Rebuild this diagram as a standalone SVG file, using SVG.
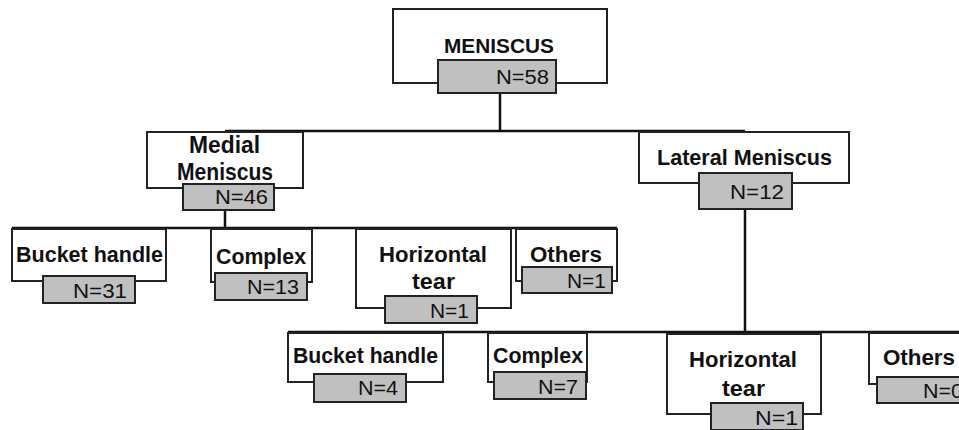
<svg xmlns="http://www.w3.org/2000/svg" width="959" height="430" viewBox="0 0 959 430">
<style>
.box{fill:#fff;stroke:#222;stroke-width:2}
.num{fill:#c0c0c0;stroke:#222;stroke-width:2}
.lbl{font-family:"Liberation Sans",Arial,sans-serif;font-weight:bold;font-size:22px;fill:#111}
.n{font-family:"Liberation Sans",Arial,sans-serif;font-size:19.5px;fill:#111}
.c{fill:none;stroke:#111;stroke-width:2.5}
</style>
<rect width="959" height="430" fill="#fff"/>
<g id="connectors">
<path class="c" d="M500 93V131M225 131H745M225 210V228M12 228H617M745 209V332M288 332H959"/>
</g>
<g id="meniscus">
<rect class="box" x="393" y="9" width="214" height="74"/>
<rect class="num" x="438" y="60" width="118" height="33"/>
<text class="lbl" x="444" y="53" textLength="110" lengthAdjust="spacingAndGlyphs" style="font-size:20px">MENISCUS</text>
<text class="n" x="496" y="84" textLength="53" lengthAdjust="spacingAndGlyphs">N=58</text>
</g>
<g id="medial">
<rect class="box" x="147" y="132" width="156" height="56"/>
<rect class="num" x="183" y="184" width="91" height="26"/>
<text class="lbl" x="189" y="153" textLength="71" lengthAdjust="spacingAndGlyphs" style="font-size:23px">Medial</text>
<text class="lbl" x="177" y="180" textLength="96" lengthAdjust="spacingAndGlyphs" style="font-size:23px">Meniscus</text>
<text class="n" x="215" y="204" textLength="53" lengthAdjust="spacingAndGlyphs">N=46</text>
</g>
<g id="lateral">
<rect class="box" x="639" y="132" width="210" height="51"/>
<rect class="num" x="699" y="173" width="93" height="36"/>
<text class="lbl" x="657" y="165" textLength="175" lengthAdjust="spacingAndGlyphs">Lateral Meniscus</text>
<text class="n" x="730" y="199" textLength="54" lengthAdjust="spacingAndGlyphs">N=12</text>
</g>
<g id="m-bucket">
<rect class="box" x="12" y="229" width="154" height="52"/>
<rect class="num" x="43" y="276" width="92" height="27"/>
<text class="lbl" x="16" y="262" textLength="147" lengthAdjust="spacingAndGlyphs">Bucket handle</text>
<text class="n" x="73" y="298" textLength="54" lengthAdjust="spacingAndGlyphs">N=31</text>
</g>
<g id="m-complex">
<rect class="box" x="211" y="229" width="101" height="53"/>
<rect class="num" x="215" y="273" width="92" height="27"/>
<text class="lbl" x="216" y="264" textLength="90" lengthAdjust="spacingAndGlyphs">Complex</text>
<text class="n" x="247" y="294" textLength="52" lengthAdjust="spacingAndGlyphs">N=13</text>
</g>
<g id="m-horizontal">
<rect class="box" x="356" y="229" width="155" height="79"/>
<rect class="num" x="385" y="296" width="92" height="27"/>
<text class="lbl" x="379" y="262" textLength="108" lengthAdjust="spacingAndGlyphs">Horizontal</text>
<text class="lbl" x="412" y="289" textLength="43" lengthAdjust="spacingAndGlyphs">tear</text>
<text class="n" x="430" y="318" textLength="39" lengthAdjust="spacingAndGlyphs">N=1</text>
</g>
<g id="m-others">
<rect class="box" x="516" y="229" width="101" height="52"/>
<rect class="num" x="522" y="267" width="90" height="26"/>
<text class="lbl" x="530" y="262" textLength="72" lengthAdjust="spacingAndGlyphs">Others</text>
<text class="n" x="567" y="288" textLength="39" lengthAdjust="spacingAndGlyphs">N=1</text>
</g>
<g id="l-bucket">
<rect class="box" x="288" y="333" width="155" height="49"/>
<rect class="num" x="314" y="374" width="92" height="28"/>
<text class="lbl" x="293" y="363" textLength="145" lengthAdjust="spacingAndGlyphs">Bucket handle</text>
<text class="n" x="358" y="395" textLength="40" lengthAdjust="spacingAndGlyphs">N=4</text>
</g>
<g id="l-complex">
<rect class="box" x="488" y="333" width="99" height="49"/>
<rect class="num" x="494" y="372" width="92" height="27"/>
<text class="lbl" x="493" y="363" textLength="90" lengthAdjust="spacingAndGlyphs">Complex</text>
<text class="n" x="538" y="394" textLength="40" lengthAdjust="spacingAndGlyphs">N=7</text>
</g>
<g id="l-horizontal">
<rect class="box" x="667" y="334" width="154" height="80"/>
<rect class="num" x="711" y="403" width="92" height="27"/>
<text class="lbl" x="689" y="367" textLength="108" lengthAdjust="spacingAndGlyphs">Horizontal</text>
<text class="lbl" x="722" y="396" textLength="43" lengthAdjust="spacingAndGlyphs">tear</text>
<text class="n" x="755" y="425" textLength="43" lengthAdjust="spacingAndGlyphs">N=1</text>
</g>
<g id="l-others">
<rect class="box" x="869" y="333" width="110" height="51"/>
<rect class="num" x="877" y="377" width="100" height="26"/>
<text class="lbl" x="883" y="365" textLength="72" lengthAdjust="spacingAndGlyphs">Others</text>
<text class="n" x="923" y="398" textLength="40" lengthAdjust="spacingAndGlyphs">N=0</text>
</g>
</svg>
